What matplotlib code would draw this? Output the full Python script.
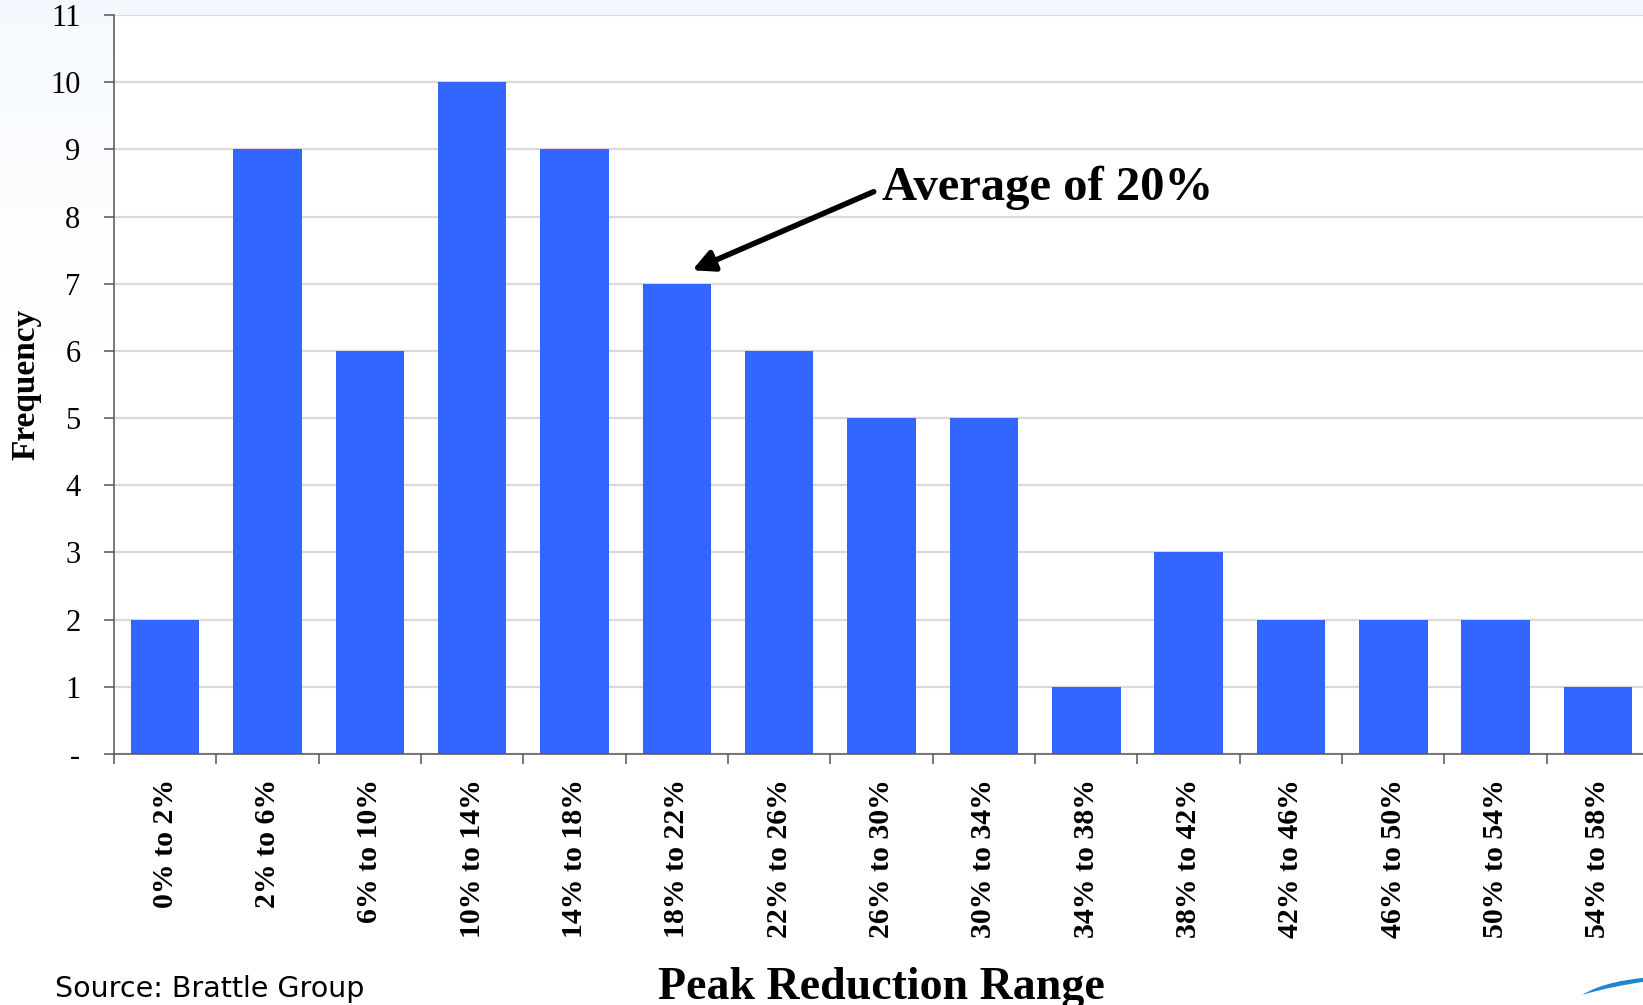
import numpy as np
import matplotlib
matplotlib.use('Agg')
import matplotlib.pyplot as plt
from matplotlib.path import Path
from matplotlib.patches import PathPatch
import matplotlib.patheffects as pe

plt.rcParams['font.family'] = ['Liberation Serif', 'DejaVu Serif']

# peak reduction histogram
ranges = ["0% to 2%", "2% to 6%", "6% to 10%", "10% to 14%", "14% to 18%",
          "18% to 22%", "22% to 26%", "26% to 30%", "30% to 34%", "34% to 38%",
          "38% to 42%", "42% to 46%", "46% to 50%", "50% to 54%", "54% to 58%"]
freq = [2, 9, 6, 10, 9, 7, 6, 5, 5, 1, 3, 2, 2, 2, 1]
ytick_vals = list(range(0, 12))
ytick_text = ['-'] + [str(v) for v in range(1, 12)]

BLUE = '#3366ff'

fig = plt.figure(figsize=(16.43, 10.05), dpi=100)
fig.patch.set_facecolor('white')

# pale blue wash fading down from the top of the slide
bg = fig.add_axes([0, 0, 1, 1], zorder=-5)
grad = np.ones((200, 2, 3))
fade = np.clip(np.linspace(0, 1, 200) / 0.35, 0, 1) ** 0.7
top = np.array([0.957, 0.973, 0.996])
grad[:] = top + (1 - top) * fade[:, None, None]
bg.imshow(grad, aspect='auto', extent=[0, 1, 0, 1], origin='upper')
bg.set_axis_off()

ax = fig.add_axes([0.0694, 0.2498, 0.9343, 0.7353])
ax.set_facecolor('white')

x = np.arange(len(ranges))
ax.bar(x, freq, width=0.67, color=BLUE, zorder=3)

ax.set_xlim(-0.5, len(ranges) - 0.5)
ax.set_ylim(0, 11)

ax.set_yticks(ytick_vals)
ax.set_yticklabels(ytick_text, fontsize=22)
ax.yaxis.grid(True, color='#d9d9d9', lw=1.6, zorder=0)
ax.tick_params(axis='y', length=7.2, width=1.1, color='#555555', pad=17)

ax.set_xticks(x)
ax.set_xticklabels(ranges, rotation=90, fontsize=21.5, fontweight='bold')
ax.set_xticks(np.arange(-0.5, len(ranges) - 0.5, 1), minor=True)
ax.tick_params(axis='x', which='major', length=0, pad=18)
ax.tick_params(axis='x', which='minor', length=7.2, width=1.1, color='#555555')

for s in ['top', 'right']:
    ax.spines[s].set_visible(False)
for s in ['left', 'bottom']:
    ax.spines[s].set_color('#555555')
    ax.spines[s].set_linewidth(1.1)
    ax.spines[s].set_zorder(4)

ax.set_ylabel('Frequency', fontsize=24, fontweight='bold')
ax.yaxis.set_label_coords(-0.047, 0.5)
ax.set_xlabel('Peak Reduction Range', fontsize=33, fontweight='bold')
ax.xaxis.set_label_coords(0.5, -0.288)

# pointer to the bin holding the average
ann = ax.annotate('Average of 20%', xy=(5.15, 7.2), xytext=(7.0, 8.42),
                  fontsize=35, fontweight='bold', ha='left', va='center',
                  arrowprops=dict(arrowstyle='-|>', lw=4, color='black',
                                  mutation_scale=32, relpos=(0, 0.5),
                                  shrinkA=4, shrinkB=0))
ann.arrow_patch.set_path_effects([pe.SimplePatchShadow(offset=(1.5, -2), alpha=0.35),
                                  pe.Normal()])

fig.text(0.0335, 0.008, 'Source: Brattle Group', fontsize=20.5,
         family='DejaVu Sans', va='baseline', ha='left')

# corner of the logo swoosh
verts = [(0.963, 0.010), (0.975, 0.022), (0.990, 0.025), (1.0, 0.027),
         (1.0, 0.023), (0.988, 0.020), (0.975, 0.016), (0.963, 0.010)]
codes = [Path.MOVETO, Path.CURVE4, Path.CURVE4, Path.CURVE4,
         Path.LINETO, Path.CURVE4, Path.CURVE4, Path.CURVE4]
fig.patches.append(PathPatch(Path(verts, codes), transform=fig.transFigure,
                             facecolor='#1f86d0', edgecolor='none'))

fig.savefig('out.png', dpi=100, facecolor=fig.get_facecolor())
